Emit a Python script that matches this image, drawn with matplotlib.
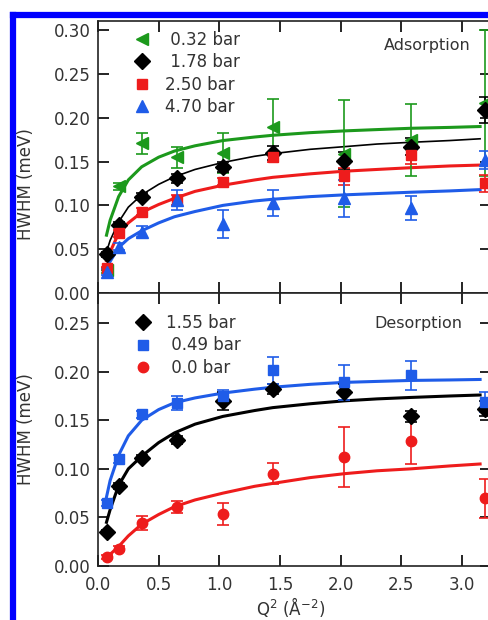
import matplotlib
matplotlib.use('Agg')
from matplotlib import pyplot as plt
from matplotlib.lines import Line2D


# Q^2 values of the measured points (A^-2)
q2 = [0.074, 0.17, 0.36, 0.65, 1.03, 1.44, 2.03, 2.58, 3.19]

# Adsorption HWHM (meV) and error bars
ads_032 = [0.026, 0.122, 0.171, 0.155, 0.160, 0.190, 0.159, 0.175, 0.217]
ads_032_err = [0.003, 0.004, 0.012, 0.012, 0.023, 0.031, 0.061, 0.041, 0.083]
ads_178 = [0.044, 0.078, 0.110, 0.131, 0.144, 0.160, 0.151, 0.167, 0.209]
ads_178_err = [0.003, 0.003, 0.004, 0.005, 0.006, 0.008, 0.010, 0.010, 0.015]
ads_250 = [0.028, 0.068, 0.093, 0.106, 0.127, 0.155, 0.133, 0.157, 0.125]
ads_250_err = [0.002, 0.004, 0.004, 0.006, 0.004, 0.006, 0.010, 0.010, 0.010]
ads_470 = [0.024, 0.053, 0.070, 0.106, 0.079, 0.103, 0.108, 0.097, 0.152]
ads_470_err = [0.003, 0.004, 0.006, 0.011, 0.016, 0.015, 0.021, 0.014, 0.010]

# Desorption HWHM (meV) and error bars
des_155 = [0.035, 0.082, 0.111, 0.130, 0.170, 0.182, 0.179, 0.154, 0.162]
des_155_err = [0.002, 0.003, 0.003, 0.004, 0.009, 0.005, 0.008, 0.006, 0.008]
des_049 = [0.0645, 0.110, 0.156, 0.168, 0.175, 0.2016, 0.189, 0.1965, 0.169]
des_049_err = [0.003, 0.004, 0.004, 0.007, 0.006, 0.014, 0.018, 0.015, 0.010]
des_00 = [0.009, 0.018, 0.044, 0.061, 0.0535, 0.095, 0.112, 0.129, 0.0696]
des_00_err = [0.002, 0.003, 0.007, 0.006, 0.011, 0.011, 0.031, 0.024, 0.020]

# fitted curves
fit_q2 = [0.07, 0.10, 0.17, 0.25, 0.36, 0.5, 0.63, 0.8, 1.03, 1.29, 1.44, 1.75, 2.03, 2.3, 2.58, 2.9, 3.15]
fit_ads_032 = [0.066, 0.083, 0.110, 0.129, 0.144, 0.155, 0.162, 0.168, 0.174, 0.178, 0.180, 0.183, 0.185,
               0.1865, 0.188, 0.189, 0.190]
fit_ads_178 = [0.047, 0.060, 0.081, 0.098, 0.112, 0.124, 0.1326, 0.141, 0.149, 0.156, 0.159, 0.164, 0.167,
               0.170, 0.172, 0.174, 0.176]
fit_ads_250 = [0.037, 0.047, 0.068, 0.080, 0.092, 0.101, 0.108, 0.116, 0.123, 0.129, 0.132, 0.136, 0.139,
               0.141, 0.143, 0.145, 0.146]
fit_ads_470 = [0.028, 0.036, 0.052, 0.062, 0.071, 0.080, 0.087, 0.093, 0.100, 0.105, 0.107, 0.110, 0.112,
               0.1135, 0.115, 0.1165, 0.118]
fit_des_049 = [0.071, 0.088, 0.114, 0.134, 0.150, 0.161, 0.168, 0.173, 0.178, 0.182, 0.184, 0.187, 0.189,
               0.190, 0.191, 0.1915, 0.192]
fit_des_155 = [0.045, 0.058, 0.083, 0.100, 0.113, 0.127, 0.137, 0.146, 0.154, 0.160, 0.163, 0.167, 0.170,
               0.172, 0.1735, 0.175, 0.176]
fit_des_00 = [0.009, 0.012, 0.020, 0.031, 0.043, 0.053, 0.061, 0.068, 0.075, 0.082, 0.085, 0.091, 0.095,
              0.098, 0.100, 0.103, 0.105]

GREEN = '#1c991c'
RED = '#ee1c1c'
BLUE = '#1f5ce8'
BLACK = 'black'
TXT = '#333333'

plt.rcParams['font.family'] = ['DejaVu Sans']
plt.rcParams['mathtext.default'] = 'regular'
plt.rcParams['font.size'] = 12

fig = plt.figure(figsize=(4.88, 6.2), dpi=100)
W, H = 488.0, 620.0
ax1 = fig.add_axes([98 / W, 1 - 293 / H, 393 / W, 272.5 / H])
ax2 = fig.add_axes([98 / W, 1 - 566 / H, 393 / W, 273 / H], sharex=ax1)


def draw_points(ax, y, err, color, marker, ms, label):
    ax.errorbar(q2, y, yerr=err, fmt='none', ecolor=color, elinewidth=1.2,
                capsize=4, capthick=1.2, zorder=3)
    ax.plot(q2, y, linestyle='none', marker=marker, ms=ms, color=color,
            mec=color, label=label, zorder=4)


def style_axis(ax, ymax):
    ax.set_xlim(0, 3.24)
    ax.set_ylim(0, ymax)
    ax.tick_params(direction='in', length=8, width=1.2, top=True, right=True,
                   labelsize=12, labelcolor=TXT, pad=5)
    for s in ax.spines.values():
        s.set_linewidth(1.2)
        s.set_color('#222222')
    ax.set_ylabel('HWHM (meV)', fontsize=12, color=TXT)


# adsorption
ax1.plot(fit_q2, fit_ads_032, color=GREEN, lw=2.2, zorder=2)
ax1.plot(fit_q2, fit_ads_178, color=BLACK, lw=1.2, zorder=2)
ax1.plot(fit_q2, fit_ads_250, color=RED, lw=2.2, zorder=2)
ax1.plot(fit_q2, fit_ads_470, color=BLUE, lw=2.2, zorder=2)
draw_points(ax1, ads_032, ads_032_err, GREEN, '<', 8, ' 0.32 bar')
draw_points(ax1, ads_178, ads_178_err, BLACK, 'D', 8, ' 1.78 bar')
draw_points(ax1, ads_250, ads_250_err, RED, 's', 7.5, '2.50 bar')
draw_points(ax1, ads_470, ads_470_err, BLUE, '^', 8, '4.70 bar')
style_axis(ax1, 0.311)
ax1.set_yticks([0, 0.05, 0.10, 0.15, 0.20, 0.25, 0.30])
ax1.set_yticklabels(['0.00', '0.05', '0.10', '0.15', '0.20', '0.25', '0.30'])
ax1.tick_params(labelbottom=False)
ax1.yaxis.set_label_coords(-0.16, 0.40)
ax1.legend(loc='upper left', bbox_to_anchor=(0.065, 1.0), frameon=False,
           handlelength=1.0, handletextpad=0.9, labelspacing=0.27,
           borderaxespad=0.2, fontsize=12, labelcolor=TXT)
ax1.text(0.947, 0.91, 'Adsorption', transform=ax1.transAxes, ha='right',
         va='center', fontsize=11.5, color=TXT)

# desorption
ax2.plot(fit_q2, fit_des_049, color=BLUE, lw=2.2, zorder=2)
ax2.plot(fit_q2, fit_des_155, color=BLACK, lw=2.2, zorder=2)
ax2.plot(fit_q2, fit_des_00, color=RED, lw=2.2, zorder=2)
draw_points(ax2, des_155, des_155_err, BLACK, 'D', 8, '1.55 bar')
draw_points(ax2, des_049, des_049_err, BLUE, 's', 7.5, ' 0.49 bar')
draw_points(ax2, des_00, des_00_err, RED, 'o', 7.5, ' 0.0 bar')
style_axis(ax2, 0.281)
ax2.set_yticks([0, 0.05, 0.10, 0.15, 0.20, 0.25])
ax2.set_yticklabels(['0.00', '0.05', '0.10', '0.15', '0.20', '0.25'])
ax2.set_xticks([0, 0.5, 1.0, 1.5, 2.0, 2.5, 3.0])
ax2.set_xticklabels(['0.0', '0.5', '1.0', '1.5', '2.0', '2.5', '3.0'])
ax2.tick_params(axis='x', pad=7)
ax2.yaxis.set_label_coords(-0.16, 0.5)
ax2.set_xlabel('Q$^2$ (Å$^{-2}$)', fontsize=12, color=TXT)
ax2.xaxis.set_label_coords(0.491, -0.108)
ax2.legend(loc='upper left', bbox_to_anchor=(0.04, 1.0), frameon=False,
           handlelength=1.0, handletextpad=0.9, labelspacing=0.27,
           borderaxespad=0.85, fontsize=12, labelcolor=TXT)
ax2.text(0.926, 0.89, 'Desorption', transform=ax2.transAxes, ha='right',
         va='center', fontsize=11.5, color=TXT)

# blue frame around the figure (cropped at right and bottom)
fig.add_artist(Line2D([13 / W, 13 / W], [0, 1 - 15 / H], color='#0000ff',
                      lw=4.5, solid_capstyle='projecting', transform=fig.transFigure))
fig.add_artist(Line2D([13 / W, 1], [1 - 15 / H, 1 - 15 / H], color='#0000ff',
                      lw=4.5, solid_capstyle='projecting', transform=fig.transFigure))

fig.savefig('out.png', dpi=100)
